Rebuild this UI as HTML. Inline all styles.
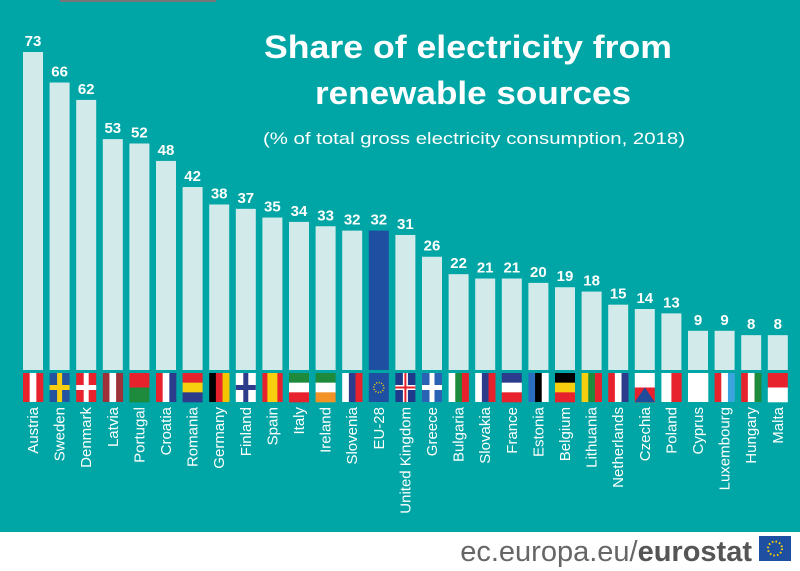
<!DOCTYPE html>
<html><head><meta charset="utf-8"><style>
body{margin:0;width:800px;height:571px;overflow:hidden;background:#fff}
svg{display:block;font-family:"Liberation Sans",sans-serif}
</style></head><body>
<svg id="c" width="800" height="571">
<rect x="0" y="0" width="800" height="532" fill="#00a5a5"/>
<rect x="60" y="0" width="156" height="2" fill="#777"/>
<text x="468" y="58" fill="#fff" font-size="32" font-weight="bold" text-anchor="middle" textLength="408" lengthAdjust="spacingAndGlyphs">Share of electricity from</text>
<text x="473" y="104" fill="#fff" font-size="32" font-weight="bold" text-anchor="middle" textLength="316" lengthAdjust="spacingAndGlyphs">renewable sources</text>
<text x="474" y="144" fill="#fff" font-size="17" text-anchor="middle" textLength="422" lengthAdjust="spacingAndGlyphs">(% of total gross electricity consumption, 2018)</text>
<g id="bars"></g>
<text x="752" y="561" fill="#666" font-size="29" text-anchor="end">ec.europa.eu/<tspan font-weight="bold" fill="#555">eurostat</tspan></text>
<rect x="759" y="536" width="32" height="25" fill="#1f4fa0"/>
<circle cx="775" cy="548.5" r="7" fill="none" stroke="#ffd500" stroke-width="2" stroke-dasharray="1.5 2.2"/>
</svg>
<script>
const countries=["Austria","Sweden","Denmark","Latvia","Portugal","Croatia","Romania","Germany","Finland","Spain","Italy","Ireland","Slovenia","EU-28","United Kingdom","Greece","Bulgaria","Slovakia","France","Estonia","Belgium","Lithuania","Netherlands","Czechia","Poland","Cyprus","Luxembourg","Hungary","Malta"];
const values=[73,66,62,53,52,48,42,38,37,35,34,33,32,32,31,26,22,21,21,20,19,18,15,14,13,9,9,8,8];
const R="#e8222d",W="#fff",B="#2c3b8c",G="#1e8a3c",Y="#f7cf0f";
const flags=[["v",[R,W,R]],["x","#2454a0","#f7cf0f"],["x",R,W],["v",["#9e3039",W,"#9e3039"]],["h",[R,G]],["v",[R,W,B]],["h",[R,Y,B]],["v",["#000",R,"#f5c400"]],["x",W,B],["v",[R,Y,Y,R]],["h",[G,W,R]],["h",[G,W,"#f39325"]],["v",[W,B,R]],["e"],["x","#1f3a8a",W],["x","#2a62b4",W],["v",[W,G,R]],["v",[W,B,R]],["h",[B,W,R]],["v",["#2a6ec0","#000",W]],["h",["#000",Y,R]],["v",[Y,G,R]],["v",[R,W,B]],["h",[W,R]],["v",[W,R]],["v",[W]],["v",[R,W,"#3aa5dc"]],["v",[R,W,G]],["h",[R,W]]];
const base=370,unit=4.356,x0=23,step=26.6,bw=20,fy=373,fh=29;
const NS="http://www.w3.org/2000/svg",g=document.getElementById("bars");
function mk(t,a){const e=document.createElementNS(NS,t);for(const k in a)e.setAttribute(k,a[k]);return e;}
const yS=v=>base-v*unit, xS=i=>x0+i*step;
countries.forEach((c,i)=>{
 const x=xS(i),v=values[i];
 const b=mk("rect",{x:x,y:yS(v),width:bw,height:v*unit,fill:c==="EU-28"?"#1f4fa0":"#d2ebea"});
 
 g.appendChild(b);
 const t=mk("text",{x:x+bw/2,y:yS(v)-6,fill:"#fff","font-size":15,"font-weight":"bold","text-anchor":"middle"});
 t.textContent=v;
 
 g.appendChild(t);
 const fg=mk("g",{});
 
 
 const f=flags[i];
 if(f[0]==="v"){const n=f[1].length;f[1].forEach((col,k)=>fg.appendChild(mk("rect",{x:x+k*bw/n,y:fy,width:bw/n+0.3,height:fh,fill:col})));}
 else if(f[0]==="h"){const n=f[1].length;f[1].forEach((col,k)=>fg.appendChild(mk("rect",{x:x,y:fy+k*fh/n,width:bw,height:fh/n+0.3,fill:col})));
   if(c==="Czechia")fg.appendChild(mk("polygon",{points:`${x},${fy+fh} ${x+bw},${fy+fh} ${x+bw/2},${fy+fh/2}`,fill:"#1e4c9a"}));}
 else if(f[0]==="x"){fg.appendChild(mk("rect",{x:x,y:fy,width:bw,height:fh,fill:f[1]}));
   fg.appendChild(mk("rect",{x:x,y:fy+fh*0.5-2.5,width:bw,height:5,fill:f[2]}));
   fg.appendChild(mk("rect",{x:x+bw/2-2.5,y:fy,width:5,height:fh,fill:f[2]}));
   if(c==="United Kingdom"){fg.appendChild(mk("rect",{x:x,y:fy+fh*0.5-1,width:bw,height:2,fill:R}));fg.appendChild(mk("rect",{x:x+bw/2-1,y:fy,width:2,height:fh,fill:R}));}}
 else {fg.appendChild(mk("rect",{x:x,y:fy,width:bw,height:fh,fill:"#1f4fa0"}));fg.appendChild(mk("circle",{cx:x+bw/2,cy:fy+fh/2,r:5,fill:"none",stroke:"#ffd500","stroke-width":1.5,"stroke-dasharray":"1 1.6"}));}
 g.appendChild(fg);
 const l=mk("text",{x:0,y:0,fill:"#fff","font-size":15,"text-anchor":"end",transform:`translate(${x+bw/2+5},407) rotate(-90)`});
 l.textContent=c;
 
 g.appendChild(l);
});
</script>
</body></html>
